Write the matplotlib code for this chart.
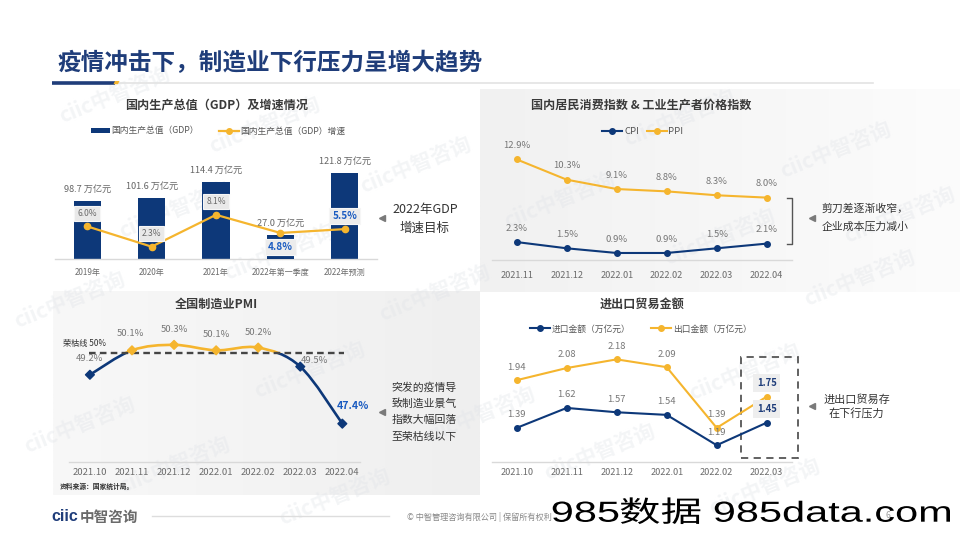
import numpy as np
import matplotlib.pyplot as plt
from matplotlib.patches import Rectangle, PathPatch, Patch, Polygon
from matplotlib.path import Path
from matplotlib.lines import Line2D
from matplotlib.textpath import TextPath
from matplotlib.font_manager import FontProperties
from matplotlib.transforms import Affine2D
from matplotlib.colors import LinearSegmentedColormap

plt.rcParams['font.family'] = ['Noto Sans CJK SC', 'DejaVu Sans']

NAVY = '#0d3879'
GOLD = '#f5b52e'
BLUE_TXT = '#1b5cc1'
GREY_TXT = '#777777'
TITLE_C = '#3a3a3a'

# ---- data ----
gdp_years = ['2019年', '2020年', '2021年', '2022年第一季度', '2022年预测']
gdp_value = [98.7, 101.6, 114.4, 27.0, 121.8]
gdp_growth = [6.0, 2.3, 8.1, 4.8, 5.5]
gdp_quarter = [False, False, False, True, False]
gdp_highlight = [False, False, False, True, True]

price_months = ['2021.11', '2021.12', '2022.01', '2022.02', '2022.03', '2022.04']
cpi = [2.3, 1.5, 0.9, 0.9, 1.5, 2.1]
ppi = [12.9, 10.3, 9.1, 8.8, 8.3, 8.0]

pmi_months = ['2021.10', '2021.11', '2021.12', '2022.01', '2022.02', '2022.03', '2022.04']
pmi = [49.2, 50.1, 50.3, 50.1, 50.2, 49.5, 47.4]
pmi_line = 50

trade_months = ['2021.10', '2021.11', '2021.12', '2022.01', '2022.02', '2022.03']
imports = [1.39, 1.62, 1.57, 1.54, 1.19, 1.45]
exports = [1.94, 2.08, 2.18, 2.09, 1.39, 1.75]

W, H = 960, 540
fig = plt.figure(figsize=(9.6, 5.4), dpi=100)


def px_axes(x0, y0, x1, y1):
    # axes placed by pixel box of the picture (y from top)
    return fig.add_axes([x0 / W, 1 - y1 / H, (x1 - x0) / W, (y1 - y0) / H])


def clean(ax, tick_size, pad):
    for s in ['top', 'right', 'left']:
        ax.spines[s].set_visible(False)
    ax.spines['bottom'].set_color('#d9d9d9')
    ax.spines['bottom'].set_linewidth(1.0)
    ax.set_yticks([])
    ax.tick_params(axis='x', length=0, labelsize=tick_size, labelcolor='#6b6b6b', pad=pad)
    ax.set_facecolor('none')


def hide(ax):
    for s in ax.spines.values():
        s.set_visible(False)
    ax.set_yticks([])
    ax.set_facecolor('none')


def smooth_path(xs, ys, t=1 / 6):
    verts = [(xs[0], ys[0])]
    codes = [Path.MOVETO]
    n = len(xs)
    for i in range(n - 1):
        x0, y0 = xs[max(i - 1, 0)], ys[max(i - 1, 0)]
        x1, y1 = xs[i], ys[i]
        x2, y2 = xs[i + 1], ys[i + 1]
        x3, y3 = xs[min(i + 2, n - 1)], ys[min(i + 2, n - 1)]
        verts += [(x1 + (x2 - x0) * t, y1 + (y2 - y0) * t),
                  (x2 - (x3 - x1) * t, y2 - (y3 - y1) * t),
                  (x2, y2)]
        codes += [Path.CURVE4] * 3
    return Path(verts, codes)


# ---- background layer in picture pixels ----
bg = fig.add_axes([0, 0, 1, 1], zorder=-10)
bg.set_axis_off()

grad = np.linspace(0, 1, 256).reshape(1, -1)
bg.imshow(grad, extent=(479.5, 960, 291.7, 89), aspect='auto', zorder=0,
          cmap=LinearSegmentedColormap.from_list('g1', ['#f1f1f1', '#fcfcfc']))
bg.imshow(grad, extent=(53, 479.5, 495, 291.7), aspect='auto', zorder=0,
          cmap=LinearSegmentedColormap.from_list('g2', ['#f8f8f8', '#efefef']))

# watermarks
marks = [(115, 95), (265, 125), (416, 165), (560, 200), (680, 118), (836, 150), (175, 210),
         (280, 252), (720, 237), (860, 278), (435, 293), (310, 370), (745, 372), (480, 415),
         (600, 452), (175, 465), (335, 497), (765, 487), (70, 300), (80, 425), (900, 215)]
for mx, my in marks:
    bg.text(mx, my, 'ciic中智咨询', rotation=22, color='#dfe2e7', fontsize=15,
            fontweight='bold', ha='center', va='center', alpha=0.35, zorder=1)

# main title
bg.text(57, 63, '疫情冲击下，制造业下行压力呈增大趋势', fontsize=17, fontweight='bold',
        color='#1f3d7a', ha='left', va='center', zorder=5)
bg.plot([119, 873], [82.7, 82.7], color='#e3e3e3', lw=1.2, zorder=4)
bg.plot([51.7, 115], [82.6, 82.6], color='#1f3d7a', lw=2.6, solid_capstyle='butt', zorder=5)
bg.add_patch(Polygon([(115, 81), (119.5, 81), (118, 84.2), (113.5, 84.2)], closed=True,
                     fc=GOLD, ec='none', zorder=5))

# panel titles
for tx, ty, s in [(216.7, 105, '国内生产总值（GDP）及增速情况'),
                  (641.7, 105, '国内居民消费指数 & 工业生产者价格指数'),
                  (216.7, 304, '全国制造业PMI'),
                  (641.7, 304, '进出口贸易金额')]:
    bg.text(tx, ty, s, fontsize=8.7, fontweight='bold', color=TITLE_C, ha='center', va='center', zorder=5)

# ---- GDP ----
ax1 = px_axes(55, 140, 377, 259.3)
clean(ax1, 5.8, 6.5)
xg = np.arange(len(gdp_years))
annual = [i for i in xg if not gdp_quarter[i]]
quarter = [i for i in xg if gdp_quarter[i]]
ax1.bar(annual, [gdp_value[i] for i in annual], width=0.42, color=NAVY, zorder=2)
ax1.set_xlim(-0.5, 4.5)
ax1.set_ylim(50.8, 149.4)
ax1.set_xticks(xg, gdp_years)

ax1q = ax1.twinx()
hide(ax1q)
ax1q.bar(quarter, [gdp_value[i] for i in quarter], width=0.42, color=NAVY, zorder=2)
ax1q.set_ylim(0, 134.2)

ax1g = ax1.twinx()
hide(ax1g)
ax1g.plot(xg, gdp_growth, color=GOLD, lw=1.6, marker='o', ms=4.5, zorder=3)
ax1g.set_ylim(0, 21.73)

for i in xg:
    tgt = ax1q if gdp_quarter[i] else ax1
    tgt.annotate(f'{gdp_value[i]:.1f} 万亿元', (i, gdp_value[i]), xytext=(0, 8.4),
                 textcoords='offset points', ha='center', va='center', fontsize=6.6, color='#666666')
    dy = -10.4 if gdp_quarter[i] else 9.4
    if gdp_highlight[i]:
        ax1g.annotate(f'{gdp_growth[i]:.1f}%', (i, gdp_growth[i]), xytext=(0, dy),
                      textcoords='offset points', ha='center', va='center', fontsize=7.2,
                      fontweight='bold', color=BLUE_TXT, zorder=6,
                      bbox=dict(boxstyle='square,pad=0.3', fc='#ececec', ec='#f6f6f6', lw=0.8))
    else:
        ax1g.annotate(f'{gdp_growth[i]:.1f}%', (i, gdp_growth[i]), xytext=(0, dy),
                      textcoords='offset points', ha='center', va='center', fontsize=6.1,
                      color='#6a6a6a', zorder=6,
                      bbox=dict(boxstyle='square,pad=0.35', fc='#e9e9e9', ec='#f6f6f6', lw=0.8))

fig.legend(handles=[Patch(fc=NAVY, ec='none', label='国内生产总值（GDP）'),
                    Line2D([], [], color=GOLD, lw=1.6, marker='o', ms=4, label='国内生产总值（GDP）增速')],
           loc='center', bbox_to_anchor=(218 / W, 1 - 131 / H), ncol=2, frameon=False,
           fontsize=6.3, handlelength=2.2, handleheight=0.55, handletextpad=0.2, columnspacing=2.3,
           labelcolor='#555555')

bg.plot(382, 218, marker='<', color='#7a7a7a', ms=5, zorder=5)
bg.text(425, 209, '2022年GDP', fontsize=9, color='#333333', ha='center', va='center', zorder=5)
bg.text(425, 228, '增速目标', fontsize=9, color='#333333', ha='center', va='center', zorder=5)

# ---- CPI / PPI ----
ax2 = px_axes(491.7, 130, 791.7, 260)
clean(ax2, 6.6, 7.8)
xp = np.arange(len(price_months))
ax2.plot(xp, ppi, color=GOLD, lw=1.5, marker='o', ms=4, zorder=3)
ax2.plot(xp, cpi, color=NAVY, lw=1.5, marker='o', ms=4, zorder=3)
ax2.set_xlim(-0.5, 5.5)
ax2.set_ylim(0, 16.67)
ax2.set_xticks(xp, price_months)
for series in (ppi, cpi):
    for i, v in enumerate(series):
        ax2.annotate(f'{v:.1f}%', (i, v), xytext=(0, 10), textcoords='offset points',
                     ha='center', va='center', fontsize=6.8, color=GREY_TXT)

fig.legend(handles=[Line2D([], [], color=NAVY, lw=1.5, marker='o', ms=4, label='CPI'),
                    Line2D([], [], color=GOLD, lw=1.5, marker='o', ms=4, label='PPI')],
           loc='center', bbox_to_anchor=(643 / W, 1 - 131.7 / H), ncol=2, frameon=False,
           fontsize=6.8, handlelength=2.1, handletextpad=0.2, columnspacing=0.8,
           labelcolor='#555555')

bg.plot([786.7, 791.7, 791.7, 786.7], [197.7, 197.7, 244.3, 244.3], color='#555555', lw=1, zorder=5)
bg.plot(811.7, 217.7, marker='<', color='#7a7a7a', ms=5, zorder=5)
bg.text(821.7, 208.3, '剪刀差逐渐收窄，', fontsize=7.8, color='#333333', ha='left', va='center', zorder=5)
bg.text(821.7, 226.7, '企业成本压力减小', fontsize=7.8, color='#333333', ha='left', va='center', zorder=5)

# ---- PMI ----
ax3 = px_axes(69.3, 315, 360, 461.7)
clean(ax3, 6.8, 4.6)
xm = np.arange(len(pmi_months))
curve = smooth_path(xm, pmi)
for col, y0 in [(GOLD, pmi_line), (NAVY, pmi_line - 10)]:
    pp = PathPatch(curve, fc='none', ec=col, lw=1.9, capstyle='round', joinstyle='round', zorder=3)
    ax3.add_patch(pp)
    pp.set_clip_path(Rectangle((-1, y0), 9, 10, transform=ax3.transData))
ax3.hlines(pmi_line, -0.02, 6.04, colors='#454545', lw=1.7, linestyles=(0, (2.8, 1.8)), zorder=4)
ax3.scatter(xm, pmi, marker='D', s=20, c=[GOLD if v >= pmi_line else NAVY for v in pmi], zorder=5)
ax3.set_xlim(-0.49, 6.42)
ax3.set_ylim(46.0, 51.4)
ax3.set_xticks(xm, pmi_months)
pmi_offsets = [(0, 11.5), (-1.2, 12.3), (0, 11.3), (0, 11.3), (0, 11), (10.5, 4.3), (7.5, 12.5)]
for i, v in enumerate(pmi):
    last = i == len(pmi) - 1
    ax3.annotate(f'{v:.1f}%', (i, v), xytext=pmi_offsets[i], textcoords='offset points',
                 ha='center', va='center', fontsize=7.6 if last else 6.8,
                 fontweight='bold' if last else 'normal', color=BLUE_TXT if last else GREY_TXT)

bg.text(62.7, 343.3, '荣枯线 50%', fontsize=5.9, color='#333333', ha='left', va='center', zorder=5)
bg.text(59.3, 486.7, '资料来源：国家统计局。', fontsize=4.9, fontweight='bold', color='#333333',
        ha='left', va='center', zorder=5)
bg.plot(381.7, 411.7, marker='<', color='#7a7a7a', ms=5, zorder=5)
for k, line in enumerate(['突发的疫情导', '致制造业景气', '指数大幅回落', '至荣枯线以下']):
    bg.text(391.7, 387.3 + k * 16.5, line, fontsize=7.8, color='#333333', ha='left', va='center', zorder=5)

# ---- trade ----
ax4 = px_axes(491.7, 335, 791.7, 461.7)
clean(ax4, 6.6, 4.6)
xt = np.arange(len(trade_months))
ax4.plot(xt, exports, color=GOLD, lw=1.5, marker='o', ms=4, zorder=3)
ax4.plot(xt, imports, color=NAVY, lw=1.5, marker='o', ms=4, zorder=3)
ax4.set_xlim(-0.5, 5.5)
ax4.set_ylim(1.0, 2.461)
ax4.set_xticks(xt, trade_months)
for series in (exports, imports):
    for i, v in enumerate(series):
        if i == len(series) - 1:
            ax4.annotate(f'{v:.2f}', (i, v), xytext=(0, 10), textcoords='offset points',
                         ha='center', va='center', fontsize=6.8, fontweight='bold', color='#1f3d7a',
                         bbox=dict(boxstyle='square,pad=0.4', fc='#eeeeee', ec='none'))
        else:
            ax4.annotate(f'{v:.2f}', (i, v), xytext=(0, 9.4), textcoords='offset points',
                         ha='center', va='center', fontsize=6.8, color=GREY_TXT)
ax4.add_patch(Rectangle((4.49, 1.04), 1.13, 1.17, fill=False, ec='#555555', lw=1.3,
                        ls=(0, (4, 3)), clip_on=False, zorder=2))

fig.legend(handles=[Line2D([], [], color=NAVY, lw=1.5, marker='o', ms=4, label='进口金额（万亿元）'),
                    Line2D([], [], color=GOLD, lw=1.5, marker='o', ms=4, label='出口金额（万亿元）')],
           loc='center', bbox_to_anchor=(640.8 / W, 1 - 329 / H), ncol=2, frameon=False,
           fontsize=6.3, handlelength=2.3, handletextpad=0.2, columnspacing=2.3,
           labelcolor='#555555')

bg.plot(811.7, 405.7, marker='<', color='#7a7a7a', ms=5, zorder=5)
bg.text(856.7, 399.3, '进出口贸易存', fontsize=8, color='#333333', ha='center', va='center', zorder=5)
bg.text(856.7, 413.5, '在下行压力', fontsize=8, color='#333333', ha='center', va='center', zorder=5)

# ---- footer ----
bg.text(51.7, 516.7, 'ciic', fontsize=11.5, fontweight='bold', family='Liberation Sans',
        color='#1f3d7a', ha='left', va='center', zorder=5)
bg.text(80, 516.7, '中智咨询', fontsize=10.5, fontweight='bold', color='#6a6a6a',
        ha='left', va='center', zorder=5)
bg.plot([151.7, 389.3], [515.7, 515.7], color='#dddddd', lw=1, zorder=4)
bg.text(407.3, 516.7, '© 中智管理咨询有限公司 | 保留所有权利', fontsize=5.9, color='#888888',
        ha='left', va='center', zorder=5)
bg.text(888.3, 515.7, '6', fontsize=6, color='#999999', ha='center', va='center', zorder=5)

# overlay stamp, stretched sideways
fp_lat = FontProperties(family='Liberation Sans')
fp_cjk = FontProperties(family='Noto Sans CJK SC')
pieces = []
cursor = 0.0
for s, fp, gap in [('985', fp_lat, 2), ('数据', fp_cjk, 30), ('985data.com', fp_lat, 0)]:
    tp = TextPath((cursor, 0), s, size=100, prop=fp)
    pieces.append(tp)
    cursor = tp.get_extents().x1 + gap
stamp = Path.make_compound_path(*pieces)
ext = stamp.get_extents()
sx = (950 - 552.7) / (ext.x1 - ext.x0)
sy = 21 / 72.5
tr = Affine2D().translate(-ext.x0, 0).scale(sx, -sy).translate(552.7, 521.7) + bg.transData
bg.add_patch(PathPatch(stamp, transform=tr, fc='black', ec='none', zorder=50))

bg.set_xlim(0, W)
bg.set_ylim(H, 0)

fig.savefig('out.png', dpi=100)
